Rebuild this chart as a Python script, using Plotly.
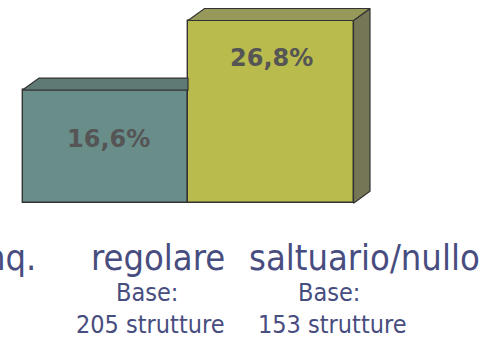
import plotly.graph_objects as go

# Data
categories = ["regolare", "saltuario/nullo"]
values = [16.6, 26.8]
value_labels = ["16,6%", "26,8%"]
base_labels = ["205 strutture", "153 strutture"]
partial_category = "nq."

# Styling
front_colors = ["#698e8a", "#b9bb4c"]
top_colors = ["#5f7975", "#97995a"]
side_colors = ["#58706c", "#757655"]
edge = "#333333"
text_blue = "#484d80"
value_grey = "#555555"
label_font = "DejaVu Sans Condensed, DejaVu Sans"

W, H = 494, 338

# Axis mapping (pixels per unit) used to fix the axis ranges
px_per_x = 165.5
x0_px = 105.25
base_px = 203.3
px_per_y = 6.82

x_range = [(0 - x0_px) / px_per_x, (W - x0_px) / px_per_x]
y_range = [-(H - base_px) / px_per_y, base_px / px_per_y]

# 3D depth of the bars, in axis units
dx = 16.5 / px_per_x
dy = 12 / px_per_y

fig = go.Figure()

xs = list(range(len(values)))

# Top and side faces
for i, v in enumerate(values):
    left, right = xs[i] - 0.5, xs[i] + 0.5
    nxt_taller = i + 1 < len(values) and values[i + 1] > v
    if nxt_taller:
        top_x = [left, right, right, left + dx, left]
        top_y = [v, v, v + dy, v + dy, v]
    else:
        top_x = [left, right, right + dx, left + dx, left]
        top_y = [v, v, v + dy, v + dy, v]
        fig.add_trace(go.Scatter(
            x=[right, right, right + dx, right + dx, right],
            y=[0, v, v + dy, dy, 0],
            fill="toself", fillcolor=side_colors[i], mode="lines",
            line=dict(color=edge, width=1.2), hoverinfo="skip", showlegend=False,
        ))
    fig.add_trace(go.Scatter(
        x=top_x, y=top_y, fill="toself", fillcolor=top_colors[i], mode="lines",
        line=dict(color=edge, width=1.2), hoverinfo="skip", showlegend=False,
    ))

# Front faces
fig.add_trace(go.Bar(
    x=xs, y=values, width=1,
    marker=dict(color=front_colors, line=dict(color=edge, width=1.4)),
    hoverinfo="skip", showlegend=False,
))

annotations = []

# Value labels on the front faces
value_label_y = [9.5, 21.3]
for i, lab in enumerate(value_labels):
    annotations.append(dict(
        x=xs[i], y=value_label_y[i], xref="x", yref="y", text=f"<b>{lab}</b>",
        showarrow=False, font=dict(family="DejaVu Sans", size=24, color=value_grey),
        xshift=3 if i == 0 else 1,
    ))

# Category labels and sample bases
def px(xp, yp):
    return xp / W, 1 - yp / H

cat_pos = [(158, 257), (364, 257)]
base_pos = [(147, 292), (329, 292)]
n_pos = [(150, 324), (332, 324)]
for i in range(len(categories)):
    x, y = px(*cat_pos[i])
    annotations.append(dict(x=x, y=y, xref="paper", yref="paper", text=categories[i],
                            showarrow=False, xanchor="center", yanchor="middle",
                            font=dict(family=label_font, size=36, color=text_blue)))
    x, y = px(*base_pos[i])
    annotations.append(dict(x=x, y=y, xref="paper", yref="paper", text="Base:",
                            showarrow=False, xanchor="center", yanchor="middle",
                            font=dict(family=label_font, size=25, color=text_blue)))
    x, y = px(*n_pos[i])
    annotations.append(dict(x=x, y=y, xref="paper", yref="paper", text=base_labels[i],
                            showarrow=False, xanchor="center", yanchor="middle",
                            font=dict(family=label_font, size=25, color=text_blue)))

x, y = px(38, 257)
annotations.append(dict(x=x, y=y, xref="paper", yref="paper", text=partial_category,
                        showarrow=False, xanchor="right", yanchor="middle",
                        font=dict(family=label_font, size=36, color=text_blue)))

fig.update_layout(
    width=W, height=H, autosize=False,
    margin=dict(l=0, r=0, t=0, b=0, pad=0),
    paper_bgcolor="white", plot_bgcolor="white",
    xaxis=dict(range=x_range, visible=False, fixedrange=True),
    yaxis=dict(range=y_range, visible=False, fixedrange=True),
    annotations=annotations,
    bargap=0,
)

fig.write_html("out.html", config={"displayModeBar": False})
